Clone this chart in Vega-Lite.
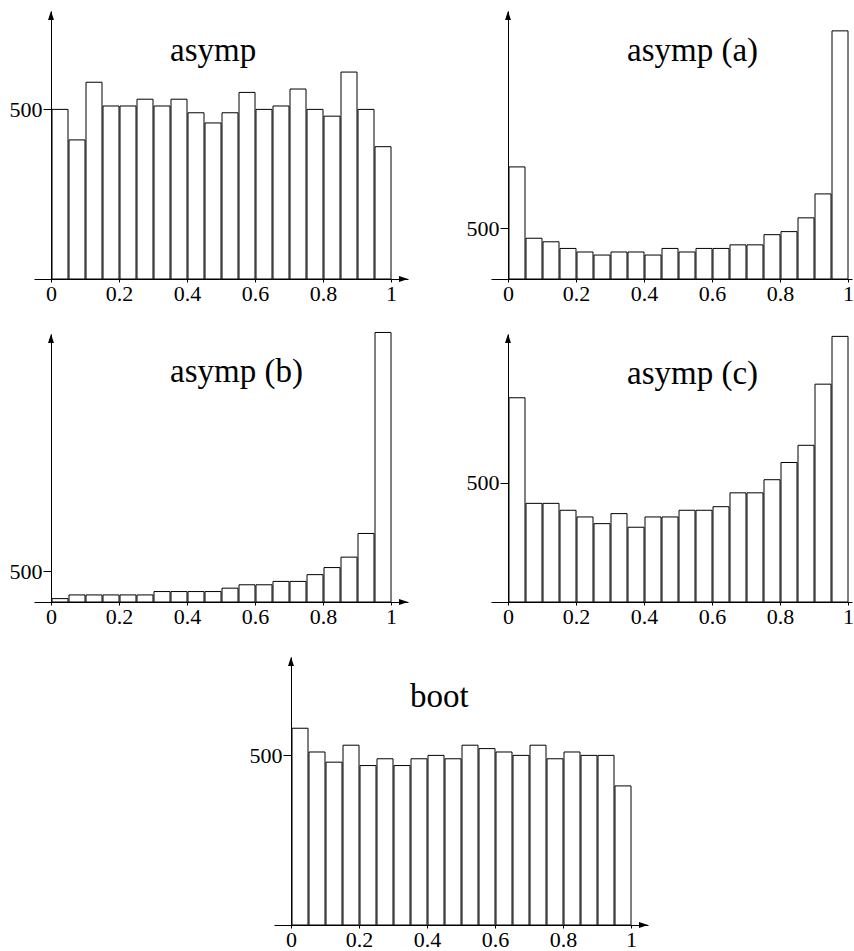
{
  "$schema": "https://vega.github.io/schema/vega-lite/v6.json",
  "padding": {"left": 9, "top": 11, "right": 0, "bottom": 0},
  "autosize": {"type": "pad"},
  "background": "#ffffff",
  "bounds": "flush",
  "align": "each",
  "columns": 2,
  "spacing": {"row": 55, "column": 83},
  "config": {
    "font": "Liberation Serif",
    "view": {"stroke": null},
    "axis": {"grid": false, "domainColor": "#000", "tickColor": "#000", "labelColor": "#000", "labelFont": "Liberation Serif", "labelFontSize": 22, "domainWidth": 1, "tickWidth": 1},
    "title": {"font": "Liberation Serif", "fontSize": 33, "fontWeight": "normal", "anchor": "start", "frame": "group", "offset": -57, "dx": 136, "baseline": "alphabetic", "color": "#000"}
  },
  "datasets": {
    "asymp": [
      {"s":0,"e":0.05,"n":500},{"s":0.05,"e":0.1,"n":410},{"s":0.1,"e":0.15,"n":580},{"s":0.15,"e":0.2,"n":510},{"s":0.2,"e":0.25,"n":510},
      {"s":0.25,"e":0.3,"n":530},{"s":0.3,"e":0.35,"n":510},{"s":0.35,"e":0.4,"n":530},{"s":0.4,"e":0.45,"n":490},{"s":0.45,"e":0.5,"n":460},
      {"s":0.5,"e":0.55,"n":490},{"s":0.55,"e":0.6,"n":550},{"s":0.6,"e":0.65,"n":500},{"s":0.65,"e":0.7,"n":510},{"s":0.7,"e":0.75,"n":560},
      {"s":0.75,"e":0.8,"n":500},{"s":0.8,"e":0.85,"n":480},{"s":0.85,"e":0.9,"n":610},{"s":0.9,"e":0.95,"n":500},{"s":0.95,"e":1,"n":390}
    ],
    "asympA": [
      {"s":0,"e":0.05,"n":1100},{"s":0.05,"e":0.1,"n":400},{"s":0.1,"e":0.15,"n":365},{"s":0.15,"e":0.2,"n":300},{"s":0.2,"e":0.25,"n":265},
      {"s":0.25,"e":0.3,"n":235},{"s":0.3,"e":0.35,"n":265},{"s":0.35,"e":0.4,"n":265},{"s":0.4,"e":0.45,"n":235},{"s":0.45,"e":0.5,"n":300},
      {"s":0.5,"e":0.55,"n":265},{"s":0.55,"e":0.6,"n":300},{"s":0.6,"e":0.65,"n":300},{"s":0.65,"e":0.7,"n":335},{"s":0.7,"e":0.75,"n":335},
      {"s":0.75,"e":0.8,"n":435},{"s":0.8,"e":0.85,"n":465},{"s":0.85,"e":0.9,"n":600},{"s":0.9,"e":0.95,"n":835},{"s":0.95,"e":1,"n":2435}
    ],
    "asympB": [
      {"s":0,"e":0.05,"n":55},{"s":0.05,"e":0.1,"n":115},{"s":0.1,"e":0.15,"n":115},{"s":0.15,"e":0.2,"n":115},{"s":0.2,"e":0.25,"n":115},
      {"s":0.25,"e":0.3,"n":115},{"s":0.3,"e":0.35,"n":170},{"s":0.35,"e":0.4,"n":170},{"s":0.4,"e":0.45,"n":170},{"s":0.45,"e":0.5,"n":170},
      {"s":0.5,"e":0.55,"n":225},{"s":0.55,"e":0.6,"n":280},{"s":0.6,"e":0.65,"n":280},{"s":0.65,"e":0.7,"n":335},{"s":0.7,"e":0.75,"n":335},
      {"s":0.75,"e":0.8,"n":445},{"s":0.8,"e":0.85,"n":560},{"s":0.85,"e":0.9,"n":730},{"s":0.9,"e":0.95,"n":1115},{"s":0.95,"e":1,"n":4385}
    ],
    "asympC": [
      {"s":0,"e":0.05,"n":855},{"s":0.05,"e":0.1,"n":413},{"s":0.1,"e":0.15,"n":413},{"s":0.15,"e":0.2,"n":384},{"s":0.2,"e":0.25,"n":356},
      {"s":0.25,"e":0.3,"n":328},{"s":0.3,"e":0.35,"n":370},{"s":0.35,"e":0.4,"n":313},{"s":0.4,"e":0.45,"n":356},{"s":0.45,"e":0.5,"n":356},
      {"s":0.5,"e":0.55,"n":384},{"s":0.55,"e":0.6,"n":384},{"s":0.6,"e":0.65,"n":399},{"s":0.65,"e":0.7,"n":457},{"s":0.7,"e":0.75,"n":457},
      {"s":0.75,"e":0.8,"n":512},{"s":0.8,"e":0.85,"n":584},{"s":0.85,"e":0.9,"n":656},{"s":0.9,"e":0.95,"n":912},{"s":0.95,"e":1,"n":1112}
    ],
    "boot": [
      {"s":0,"e":0.05,"n":580},{"s":0.05,"e":0.1,"n":510},{"s":0.1,"e":0.15,"n":480},{"s":0.15,"e":0.2,"n":530},{"s":0.2,"e":0.25,"n":470},
      {"s":0.25,"e":0.3,"n":490},{"s":0.3,"e":0.35,"n":470},{"s":0.35,"e":0.4,"n":490},{"s":0.4,"e":0.45,"n":500},{"s":0.45,"e":0.5,"n":490},
      {"s":0.5,"e":0.55,"n":530},{"s":0.55,"e":0.6,"n":520},{"s":0.6,"e":0.65,"n":510},{"s":0.65,"e":0.7,"n":500},{"s":0.7,"e":0.75,"n":530},
      {"s":0.75,"e":0.8,"n":490},{"s":0.8,"e":0.85,"n":510},{"s":0.85,"e":0.9,"n":500},{"s":0.9,"e":0.95,"n":500},{"s":0.95,"e":1,"n":410}
    ],
    "one": [{"k": 1}]
  },
  "concat": [
    {
      "width": 374, "height": 268,
      "title": {"text": "asymp"},
      "layer": [
        {"data": {"name": "asymp"}, "mark": {"type": "bar", "fill": "#fff", "stroke": "#000", "strokeWidth": 1, "orient": "vertical"},
         "encoding": {
           "x": {"field": "s", "type": "quantitative", "bin": "binned", "scale": {"domain": [-0.05, 1.05], "nice": false, "zero": false}, "axis": {"values": [0,0.2,0.4,0.6,0.8,1], "format": "~g", "tickSize": 3, "labelPadding": 1, "labelFlush": false, "labelOverlap": false, "title": null}},
           "x2": {"field": "e"},
           "y": {"field": "n", "type": "quantitative", "scale": {"domain": [0, 790], "nice": false}, "axis": {"values": [500], "offset": -17, "tickSize": 8, "labelPadding": 1, "title": null}}
         }},
        {"data": {"name": "one"}, "mark": {"type": "point", "shape": "M0,0L-1,-0.33L-1,0.33Z", "size": 324, "filled": true, "color": "#000", "opacity": 1},
         "encoding": {"x": {"datum": 1.05}, "y": {"datum": 0}}},
        {"data": {"name": "one"}, "mark": {"type": "point", "shape": "M0,0L-0.33,1L0.33,1Z", "size": 324, "filled": true, "color": "#000", "opacity": 1},
         "encoding": {"x": {"datum": 0}, "y": {"datum": 790}}}
      ]
    },
    {
      "width": 361, "height": 268,
      "title": {"text": "asymp (a)"},
      "layer": [
        {"data": {"name": "asympA"}, "mark": {"type": "bar", "fill": "#fff", "stroke": "#000", "strokeWidth": 1, "orient": "vertical"},
         "encoding": {
           "x": {"field": "s", "type": "quantitative", "bin": "binned", "scale": {"domain": [-0.05, 1.01176], "nice": false, "zero": false}, "axis": {"values": [0,0.2,0.4,0.6,0.8,1], "format": "~g", "tickSize": 3, "labelPadding": 1, "labelFlush": false, "labelOverlap": false, "title": null}},
           "x2": {"field": "e"},
           "y": {"field": "n", "type": "quantitative", "scale": {"domain": [0, 2630], "nice": false}, "axis": {"values": [500], "offset": -17, "tickSize": 8, "labelPadding": 1, "title": null}}
         }},
        {"data": {"name": "one"}, "mark": {"type": "point", "shape": "M0,0L-0.33,1L0.33,1Z", "size": 324, "filled": true, "color": "#000", "opacity": 1},
         "encoding": {"x": {"datum": 0}, "y": {"datum": 2630}}}
      ]
    },
    {
      "width": 374, "height": 268,
      "title": {"text": "asymp (b)"},
      "layer": [
        {"data": {"name": "asympB"}, "mark": {"type": "bar", "fill": "#fff", "stroke": "#000", "strokeWidth": 1, "orient": "vertical"},
         "encoding": {
           "x": {"field": "s", "type": "quantitative", "bin": "binned", "scale": {"domain": [-0.05, 1.05], "nice": false, "zero": false}, "axis": {"values": [0,0.2,0.4,0.6,0.8,1], "format": "~g", "tickSize": 3, "labelPadding": 1, "labelFlush": false, "labelOverlap": false, "title": null}},
           "x2": {"field": "e"},
           "y": {"field": "n", "type": "quantitative", "scale": {"domain": [0, 4360], "nice": false}, "axis": {"values": [500], "offset": -17, "tickSize": 8, "labelPadding": 1, "title": null}}
         }},
        {"data": {"name": "one"}, "mark": {"type": "point", "shape": "M0,0L-1,-0.33L-1,0.33Z", "size": 324, "filled": true, "color": "#000", "opacity": 1},
         "encoding": {"x": {"datum": 1.05}, "y": {"datum": 0}}},
        {"data": {"name": "one"}, "mark": {"type": "point", "shape": "M0,0L-0.33,1L0.33,1Z", "size": 324, "filled": true, "color": "#000", "opacity": 1},
         "encoding": {"x": {"datum": 0}, "y": {"datum": 4360}}}
      ]
    },
    {
      "width": 361, "height": 268,
      "title": {"text": "asymp (c)"},
      "layer": [
        {"data": {"name": "asympC"}, "mark": {"type": "bar", "fill": "#fff", "stroke": "#000", "strokeWidth": 1, "orient": "vertical"},
         "encoding": {
           "x": {"field": "s", "type": "quantitative", "bin": "binned", "scale": {"domain": [-0.05, 1.01176], "nice": false, "zero": false}, "axis": {"values": [0,0.2,0.4,0.6,0.8,1], "format": "~g", "tickSize": 3, "labelPadding": 1, "labelFlush": false, "labelOverlap": false, "title": null}},
           "x2": {"field": "e"},
           "y": {"field": "n", "type": "quantitative", "scale": {"domain": [0, 1122], "nice": false}, "axis": {"values": [500], "offset": -17, "tickSize": 8, "labelPadding": 1, "title": null}}
         }},
        {"data": {"name": "one"}, "mark": {"type": "point", "shape": "M0,0L-0.33,1L0.33,1Z", "size": 324, "filled": true, "color": "#000", "opacity": 1},
         "encoding": {"x": {"datum": 0}, "y": {"datum": 1122}}}
      ]
    },
    {
      "bounds": "flush",
      "spacing": 0,
      "hconcat": [
        {"width": 240, "height": 268, "data": {"values": []}, "mark": "point"},
        {
          "width": 374, "height": 268,
          "title": {"text": "boot"},
          "layer": [
            {"data": {"name": "boot"}, "mark": {"type": "bar", "fill": "#fff", "stroke": "#000", "strokeWidth": 1, "orient": "vertical"},
             "encoding": {
               "x": {"field": "s", "type": "quantitative", "bin": "binned", "scale": {"domain": [-0.05, 1.05], "nice": false, "zero": false}, "axis": {"values": [0,0.2,0.4,0.6,0.8,1], "format": "~g", "tickSize": 3, "labelPadding": 1, "labelFlush": false, "labelOverlap": false, "title": null}},
               "x2": {"field": "e"},
               "y": {"field": "n", "type": "quantitative", "scale": {"domain": [0, 790], "nice": false}, "axis": {"values": [500], "offset": -17, "tickSize": 8, "labelPadding": 1, "title": null}}
             }},
            {"data": {"name": "one"}, "mark": {"type": "point", "shape": "M0,0L-1,-0.33L-1,0.33Z", "size": 324, "filled": true, "color": "#000", "opacity": 1},
             "encoding": {"x": {"datum": 1.05}, "y": {"datum": 0}}},
            {"data": {"name": "one"}, "mark": {"type": "point", "shape": "M0,0L-0.33,1L0.33,1Z", "size": 324, "filled": true, "color": "#000", "opacity": 1},
             "encoding": {"x": {"datum": 0}, "y": {"datum": 790}}}
          ]
        }
      ]
    }
  ]
}
